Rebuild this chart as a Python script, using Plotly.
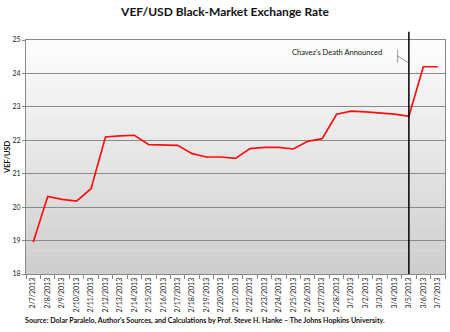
import plotly.graph_objects as go

dates = ["2/7/2013", "2/8/2013", "2/9/2013", "2/10/2013", "2/11/2013", "2/12/2013",
         "2/13/2013", "2/14/2013", "2/15/2013", "2/16/2013", "2/17/2013", "2/18/2013",
         "2/19/2013", "2/20/2013", "2/21/2013", "2/22/2013", "2/23/2013", "2/24/2013",
         "2/25/2013", "2/26/2013", "2/27/2013", "2/28/2013", "3/1/2013", "3/2/2013",
         "3/3/2013", "3/4/2013", "3/5/2013", "3/6/2013", "3/7/2013"]
rates = [18.95, 20.32, 20.23, 20.18, 20.55, 22.1, 22.13, 22.15, 21.87, 21.87, 21.85,
         21.6, 21.5, 21.5, 21.46, 21.75, 21.79, 21.79, 21.74, 21.97, 22.05, 22.78,
         22.87, 22.85, 22.82, 22.78, 22.72, 24.2, 24.2]
event_date = "3/5/2013"
event_label = "Chavez's Death Announced"
y_ticks = [18, 19, 20, 21, 22, 23, 24, 25]

FONT = "Lato"

fig = go.Figure()
fig.add_trace(go.Scatter(x=dates, y=rates, mode="lines",
                         line=dict(color="#ff1010", width=1.7), showlegend=False))

# gradient background (white at top to light grey at bottom)
n = 40
shapes = []
for i in range(n):
    t = i / (n - 1)
    v = int(round(253 - (253 - 206) * (1 - t)))
    shapes.append(dict(type="rect", xref="paper", yref="paper",
                       x0=0, x1=1, y0=i / n, y1=(i + 1) / n + 0.002,
                       fillcolor=f"rgb({v},{v},{v})", line=dict(width=0),
                       layer="below"))

# event vertical line
shapes.append(dict(type="line", xref="x", yref="paper", x0=event_date, x1=event_date,
                   y0=0, y1=1.035, line=dict(color="black", width=1.5)))
# callout leader
ev_idx = dates.index(event_date)
shapes.append(dict(type="line", xref="x", yref="y", x0=ev_idx - 0.78, x1=ev_idx - 0.78,
                   y0=24.72, y1=24.32, line=dict(color="#999999", width=1)))
shapes.append(dict(type="line", xref="x", yref="y", x0=ev_idx - 0.78, x1=ev_idx - 0.05,
                   y0=24.52, y1=24.33, line=dict(color="#999999", width=1)))

pw = 450 - 26 - 5
ph = 332 - 40 - 58

fig.update_layout(
    width=450, height=332,
    margin=dict(l=26, r=5, t=40, b=58),
    paper_bgcolor="white",
    plot_bgcolor="rgba(0,0,0,0)",
    shapes=shapes,
    title=dict(text="<b>VEF/USD Black-Market Exchange Rate</b>", x=0.5, xanchor="center",
               y=0.963, yanchor="middle", font=dict(family=FONT, size=12, color="#111111")),
    annotations=[
        dict(text=event_label, x=ev_idx - 5, y=24.62, xref="x", yref="y",
             showarrow=False, font=dict(family=FONT, size=7.5, color="#111111")),
        dict(text="<b>VEF/USD</b>", x=(7 - 26) / pw, y=0.5, xref="paper", yref="paper",
             textangle=-90, showarrow=False, xanchor="center", yanchor="middle",
             font=dict(family=FONT, size=7.5, color="#111111")),
        dict(text="<b>Source: Dolar Paralelo, Author's Sources, and Calculations by Prof. Steve H. Hanke \u2013 The Johns Hopkins University.</b>",
             x=(23 - 26) / pw, y=(274 - 320) / ph, xref="paper", yref="paper",
             showarrow=False, xanchor="left", yanchor="middle",
             font=dict(family=FONT, size=7.1, color="#111111")),
    ],
)

fig.update_xaxes(type="category", range=[-0.5, len(dates) - 0.5],
                 tickangle=-90, tickfont=dict(family=FONT, size=7, color="#222222"),
                 ticks="outside", tickson="boundaries", ticklen=4, tickcolor="#888888",
                 showgrid=False, showline=True, linecolor="#888888", linewidth=1,
                 mirror=True)
fig.update_yaxes(range=[18, 25], tickvals=y_ticks, ticks="outside", ticklen=3,
                 tickcolor="#888888",
                 tickfont=dict(family=FONT, size=7, color="#222222"),
                 showgrid=True, gridcolor="#8a8a8a", gridwidth=1,
                 showline=True, linecolor="#888888", linewidth=1, mirror=True,
                 zeroline=False)

fig.write_html("out.html")
